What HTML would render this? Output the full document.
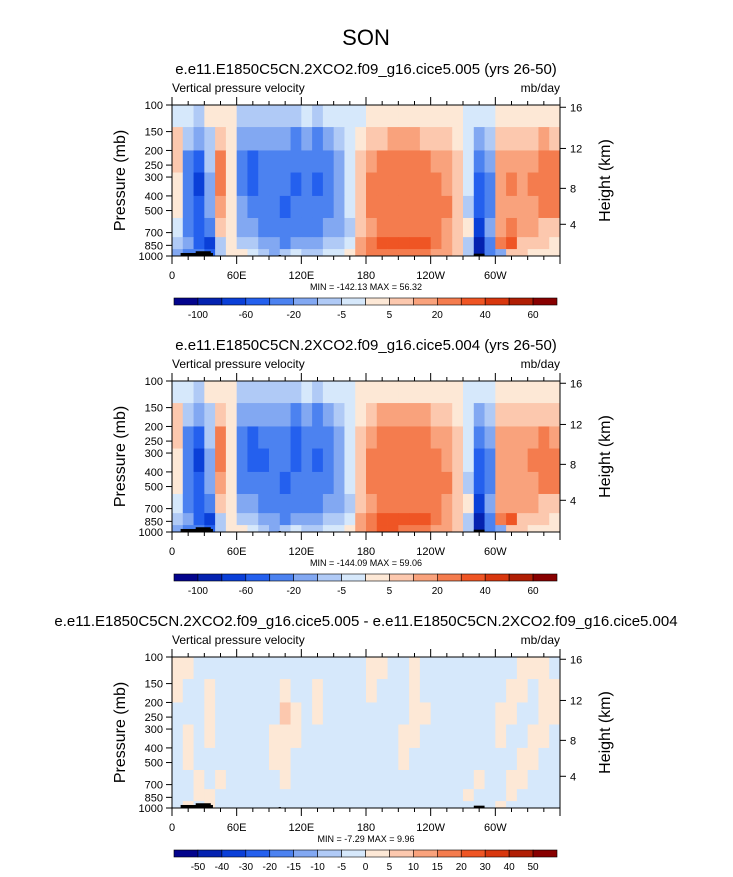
<!DOCTYPE html>
<html><head><meta charset="utf-8">
<style>
body{margin:0;background:#fff;}
svg text{font-family:"Liberation Sans",Arial,sans-serif;fill:#000;}
</style></head>
<body>
<svg id="fig" width="733" height="872" viewBox="0 0 733 872" xmlns="http://www.w3.org/2000/svg">
<rect width="733" height="872" fill="#fff"/>
<text x="366" y="45" font-size="22" text-anchor="middle">SON</text>
</svg>
<script>
// ---------- data ----------
const lonCenters = [5,15,25,35,45,55,65,75,85,95,105,115,125,135,145,155,165,175,185,195,205,215,225,235,245,255,265,275,285,295,305,315,325,335,345,355];
const rowPressureBounds = [100,140,200,280,400,560,750,900,1000];
const fieldCase005 = [
 [-3,-3,-7,3,3,3,-7,-7,-7,-7,-7,-7,-3,-7,-3,-3,-3,-3,3,3,3,3,3,3,3,3,3,-3,-3,-3,3,3,3,3,3,3],
 [7,-7,-15,-7,7,3,-15,-15,-15,-15,-15,-30,-15,-30,-15,-7,-3,3,7,7,15,15,15,7,7,7,3,-3,-15,-7,7,7,7,7,15,7],
 [7,-30,-50,-7,25,3,-30,-50,-30,-30,-30,-30,-30,-30,-30,-15,-3,7,15,25,25,25,25,25,15,15,7,-3,-30,-15,15,15,15,15,25,25],
 [3,-30,-70,-15,25,3,-30,-50,-30,-30,-30,-50,-30,-50,-30,-15,-3,7,25,25,25,25,25,25,25,15,7,-3,-50,-30,15,25,15,25,25,25],
 [3,-30,-50,-15,15,3,-15,-30,-30,-30,-50,-30,-30,-30,-30,-15,-3,7,25,25,25,25,25,25,25,25,7,-7,-50,-30,15,15,15,15,25,25],
 [-3,-30,-50,-30,7,3,-15,-15,-30,-30,-30,-30,-30,-30,-15,-15,-7,7,15,25,25,25,25,25,25,15,7,3,-70,-15,15,25,15,15,7,7],
 [-7,-15,-50,-70,-7,3,-7,-7,-15,-15,-30,-15,-15,-15,-7,-7,-3,15,25,35,35,35,35,35,25,15,7,-7,-90,-30,25,35,7,7,7,3],
 [-15,-30,-30,-50,-7,3,3,-3,-7,-15,-7,-3,-7,-7,-3,-3,3,15,25,25,25,25,25,25,15,15,7,-7,-90,-30,-15,7,7,3,3,3]
];
const fieldCase004 = [
 [-3,-3,-7,3,3,3,-7,-7,-7,-7,-7,-7,-3,-7,-3,-3,-3,3,3,3,3,3,3,3,3,3,3,-3,-3,-3,3,3,3,3,3,3],
 [7,-7,-15,-7,7,3,-15,-15,-15,-15,-15,-30,-15,-30,-15,-7,-3,3,7,15,15,15,15,15,7,7,3,-3,-15,-7,7,7,7,7,7,7],
 [7,-30,-50,-7,25,3,-30,-50,-30,-30,-30,-50,-30,-30,-30,-15,-3,7,15,25,25,25,25,25,15,15,7,-3,-30,-15,15,15,15,15,25,15],
 [3,-30,-70,-15,25,3,-30,-50,-50,-30,-30,-50,-30,-50,-30,-15,-3,7,25,25,25,25,25,25,25,15,7,-3,-50,-30,15,15,15,25,25,25],
 [3,-30,-50,-15,15,3,-30,-30,-30,-30,-50,-30,-30,-30,-30,-15,-3,7,25,25,25,25,25,25,25,25,7,-7,-50,-30,15,15,15,15,25,25],
 [-3,-30,-50,-30,7,3,-15,-15,-30,-30,-30,-30,-30,-30,-15,-15,-7,7,15,25,25,25,25,25,25,15,7,3,-70,-15,15,15,15,15,7,7],
 [-7,-15,-50,-70,-7,3,-7,-7,-15,-15,-30,-15,-15,-15,-7,-7,-3,15,25,35,35,35,35,35,25,15,7,-7,-90,-30,25,35,7,7,7,3],
 [-15,-30,-30,-50,-7,3,3,-3,-7,-15,-7,-3,-7,-7,-3,-3,3,15,25,35,35,25,25,25,15,15,7,-7,-90,-30,-15,7,7,3,3,3]
];
const fieldDiff = [
 [2,2,-2,-2,-2,-2,-2,-2,-2,-2,-2,-2,-2,-2,-2,-2,-2,-2,2,2,-2,-2,2,-2,-2,-2,-2,-2,-2,-2,-2,-2,2,2,2,-2],
 [2,-2,-2,2,-2,-2,-2,-2,-2,-2,2,-2,-2,2,-2,-2,-2,-2,2,-2,-2,-2,2,-2,-2,-2,-2,-2,-2,-2,-2,2,2,-2,2,2],
 [-2,-2,-2,2,-2,-2,-2,-2,-2,-2,7,2,-2,2,-2,-2,-2,-2,-2,-2,-2,-2,2,2,-2,-2,-2,-2,-2,-2,2,2,-2,-2,2,2],
 [-2,2,-2,2,-2,-2,-2,-2,-2,2,2,2,-2,-2,-2,-2,-2,-2,-2,-2,-2,2,2,-2,-2,-2,-2,-2,-2,-2,2,-2,-2,2,2,-2],
 [-2,2,-2,-2,-2,-2,-2,-2,-2,2,2,-2,-2,-2,-2,-2,-2,-2,-2,-2,-2,2,-2,-2,-2,-2,-2,-2,-2,-2,-2,-2,2,2,-2,-2],
 [-2,-2,2,-2,2,-2,-2,-2,-2,-2,2,-2,-2,-2,-2,-2,-2,-2,-2,-2,-2,-2,-2,-2,-2,-2,-2,-2,2,-2,-2,2,2,-2,-2,-2],
 [-2,-2,2,2,-2,-2,-2,-2,-2,-2,-2,-2,-2,-2,-2,-2,-2,-2,-2,-2,-2,-2,-2,-2,-2,-2,-2,2,-2,-2,-2,2,-2,-2,-2,-2],
 [-2,2,-2,2,-2,-2,-2,-2,-2,-2,-2,-2,-2,-2,-2,-2,-2,-2,-2,-2,-2,-2,-2,-2,-2,-2,-2,-2,-2,-2,2,-2,-2,-2,-2,-2]
];
const levelsAbs = [-100,-80,-60,-40,-20,-10,-5,0,5,10,20,30,40,50,60];
const levelsDiff = [-50,-40,-30,-20,-15,-10,-5,0,5,10,15,20,30,40,50];
const labelsAbs = ["-100","","-60","","-20","","-5","","5","","20","","40","","60"];
const labelsDiff = ["-50","-40","-30","-20","-15","-10","-5","0","5","10","15","20","30","40","50"];
const pressureTicks = [100,150,200,250,300,400,500,700,850,1000];
const heightTicks = [4,8,12,16];
const heightTickPressure = [616.6,356.5,194.0,103.5];
const lonTicks = [0,60,120,180,240,300];
const lonTickLabels = ["0","60E","120E","180","120W","60W"];
const colors = ["#03048c","#0422b0","#0a3fd8","#2460ee","#4c82f0","#82a8f2","#b0caf6","#d6e8fb","#fde8d6","#fcc8ae","#f9a27c","#f47c4e","#ef5524","#d8370e","#b01e04","#880000"];

// ---------- drawing ----------
const NS="http://www.w3.org/2000/svg";
const svg=document.getElementById('fig');
const X0=172,X1=560,PH=151;
function mk(tag,attrs,parent){const e=document.createElementNS(NS,tag);for(const k in attrs)e.setAttribute(k,attrs[k]);(parent||svg).appendChild(e);return e;}
function xOf(lon){return X0+lon/360*(X1-X0);}
function colorFor(v,levels){let i=0;while(i<levels.length&&v>=levels[i])i++;return colors[i];}

function panel(top,title,field,levels,labels,minmax,name){
  const yOf=p=>top+Math.log10(p/100)*PH;
  const g=mk('g',{});
  
  
  const t=mk('text',{x:366,y:top-31,'font-size':15,'text-anchor':'middle'},g);t.textContent=title;
  
  
  const l=mk('text',{x:X0,y:top-13,'font-size':12},g);l.textContent='Vertical pressure velocity';
  
  
  const u=mk('text',{x:X1,y:top-13,'font-size':12,'text-anchor':'end'},g);u.textContent='mb/day';
  
  
  const dw=(X1-X0)/lonCenters.length;
  for(let r=0;r<field.length;r++){
    const y0=yOf(rowPressureBounds[r]),y1=yOf(rowPressureBounds[r+1]);
    for(let c=0;c<lonCenters.length;c++){
      const cell=mk('rect',{x:xOf(lonCenters[c])-dw/2,y:y0,width:dw+0.4,height:y1-y0+0.4,fill:colorFor(field[r][c],levels)},g);
      
      
    }
  }
  // terrain
  const terr=[[8,38,955],[22,36,930],[280,290,965],[99,101,985]];
  terr.forEach(tr=>{const e=mk('rect',{x:xOf(tr[0]),y:yOf(tr[2]),width:xOf(tr[1])-xOf(tr[0]),height:yOf(1000)-yOf(tr[2]),fill:'#000'},g);
    
    });
  const fr=mk('rect',{x:X0,y:top,width:X1-X0,height:PH,fill:'none',stroke:'#000','stroke-width':1},g);
  
  
  pressureTicks.forEach(p=>{const y=yOf(p);mk('line',{x1:X0-6,x2:X0,y1:y,y2:y,stroke:'#000'},g);
    const tx=mk('text',{x:X0-9,y:y+4,'font-size':11,'text-anchor':'end'},g);tx.textContent=p;
    
    });
  heightTicks.forEach((h,i)=>{const y=yOf(heightTickPressure[i]);mk('line',{x1:X1,x2:X1+6,y1:y,y2:y,stroke:'#000'},g);
    const tx=mk('text',{x:X1+10,y:y+4,'font-size':11},g);tx.textContent=h;
    
    });
  for(let lon=0;lon<=360;lon+=15){const x=xOf(lon);const maj=lon%60===0;
    mk('line',{x1:x,x2:x,y1:top+PH,y2:top+PH+(maj?8:4),stroke:'#000'},g);
    mk('line',{x1:x,x2:x,y1:top,y2:top-(maj?8:4),stroke:'#000'},g);}
  lonTicks.forEach((lon,i)=>{const tx=mk('text',{x:xOf(lon),y:top+PH+23,'font-size':11,'text-anchor':'middle'},g);tx.textContent=lonTickLabels[i];
    
    });
  const mm=mk('text',{x:366,y:top+PH+34,'font-size':9,'text-anchor':'middle'},g);mm.textContent=minmax;
  
  
  const ya=mk('text',{x:0,y:0,'font-size':16,'text-anchor':'middle',transform:`translate(125,${top+PH/2}) rotate(-90)`},g);ya.textContent='Pressure (mb)';
  
  
  const ya2=mk('text',{x:0,y:0,'font-size':16,'text-anchor':'middle',transform:`translate(610,${top+PH/2}) rotate(-90)`},g);ya2.textContent='Height (km)';
  
  
  // colorbar
  const cy=top+193,cx0=174,cx1=557,bw=(cx1-cx0)/colors.length;
  colors.forEach((c,i)=>{const b=mk('rect',{x:cx0+i*bw,y:cy,width:bw,height:7,fill:c,stroke:'#000','stroke-width':0.6},g);
    
    });
  labels.forEach((lb,i)=>{if(!lb)return;const tx=mk('text',{x:cx0+(i+1)*bw,y:cy+20,'font-size':10,'text-anchor':'middle'},g);tx.textContent=lb;
    
    });
}
panel(105,'e.e11.E1850C5CN.2XCO2.f09_g16.cice5.005 (yrs 26-50)',fieldCase005,levelsAbs,labelsAbs,'MIN = -142.13  MAX =  56.32','panel-case-005');
panel(381,'e.e11.E1850C5CN.2XCO2.f09_g16.cice5.004 (yrs 26-50)',fieldCase004,levelsAbs,labelsAbs,'MIN = -144.09  MAX =  59.06','panel-case-004');
panel(657,'e.e11.E1850C5CN.2XCO2.f09_g16.cice5.005 - e.e11.E1850C5CN.2XCO2.f09_g16.cice5.004',fieldDiff,levelsDiff,labelsDiff,'MIN = -7.29  MAX =  9.96','panel-difference');
</script>
</body></html>
